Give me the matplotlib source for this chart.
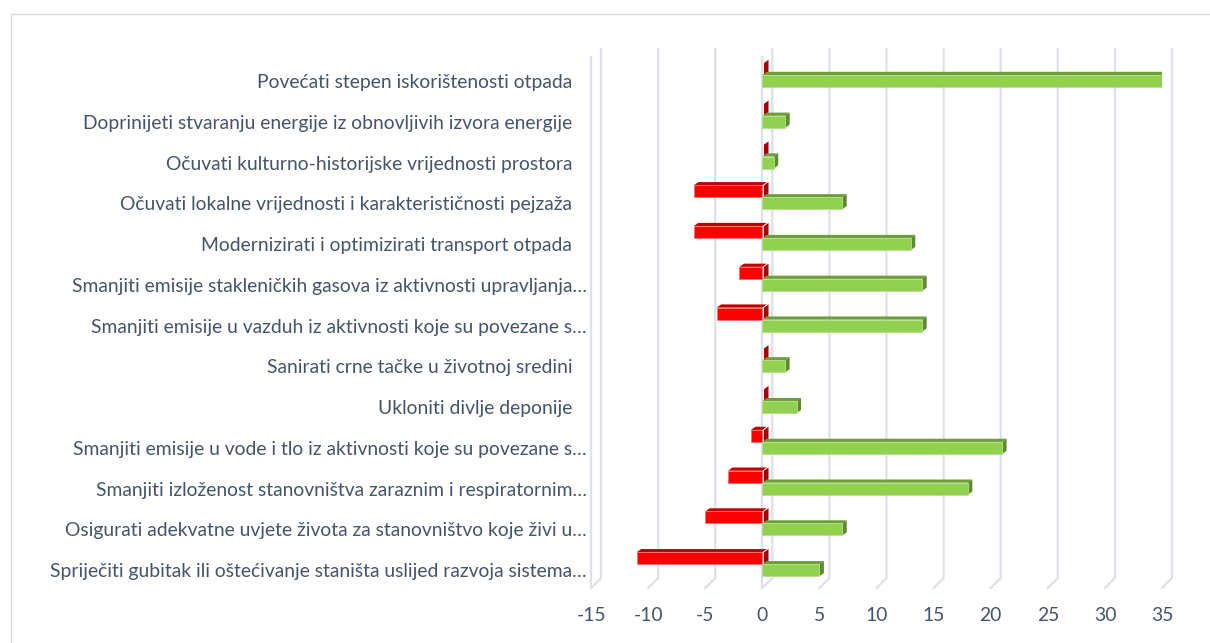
import matplotlib
matplotlib.use("Agg")
import matplotlib.pyplot as plt
from matplotlib.patches import Polygon, Rectangle
import numpy as np

categories = [
    "Povećati stepen iskorištenosti otpada   ",
    "Doprinijeti stvaranju energije iz obnovljivih izvora energije   ",
    "Očuvati kulturno-historijske vrijednosti prostora   ",
    "Očuvati lokalne vrijednosti i karakterističnosti pejzaža   ",
    "Modernizirati i optimizirati transport otpada   ",
    "Smanjiti emisije stakleničkih gasova iz aktivnosti upravljanja…",
    "Smanjiti emisije u vazduh iz aktivnosti koje su povezane s…",
    "Sanirati crne tačke u životnoj sredini   ",
    "Ukloniti divlje deponije   ",
    "Smanjiti emisije u vode i tlo iz aktivnosti koje su povezane s…",
    "Smanjiti izloženost stanovništva zaraznim i respiratornim…",
    "Osigurati adekvatne uvjete života za stanovništvo koje živi u…",
    "Spriječiti gubitak ili oštećivanje staništa uslijed razvoja sistema…",
]
positive = [35, 2, 1, 7, 13, 14, 14, 2, 3, 21, 18, 7, 5]
negative = [0, 0, 0, -6, -6, -2, -4, 0, 0, -1, -3, -5, -11]
xticks = [-15, -10, -5, 0, 5, 10, 15, 20, 25, 30, 35]
xtick_labels = ["-15", "-10", "-5", "0", "5", "10", "15", "20", "25", "30", "35"]

W, H = 1210, 643
fig = plt.figure(figsize=(W / 100, H / 100), dpi=100)
text_color = "#44546A"
font = ["Lato", "DejaVu Sans"]

# layout in pixels
ax_left, ax_right = 591, 1162
ax_top, ax_bottom = 49, 588
ax = fig.add_axes([ax_left / W, 1 - ax_bottom / H, (ax_right - ax_left) / W, (ax_bottom - ax_top) / H])
ax.set_xlim(-15, 35)
px_per_cat = 40.77
first_center = 81.0
ax.set_ylim((ax_bottom - first_center) / px_per_cat, (ax_top - first_center) / px_per_cat)
for s in ax.spines.values():
    s.set_visible(False)
ax.set_facecolor("none")

# fit font size to the reference text width
renderer = fig.canvas.get_renderer()
t = fig.text(0, 0, "Doprinijeti stvaranju energije iz obnovljivih izvora energije", fontsize=10, family=font)
w = t.get_window_extent(renderer).width
t.remove()
fs = 10 * 501 / w * 0.975

ypos = np.arange(len(categories))
ax.set_yticks(ypos)
ax.set_yticklabels(categories, fontsize=fs, color=text_color, family=font)
ax.set_xticks(xticks)
ax.set_xticklabels(xtick_labels, fontsize=fs, color=text_color, family=font)
ax.tick_params(axis="y", length=0, pad=3)
ax.tick_params(axis="x", length=0, pad=14)

ppx = (ax_right - ax_left) / 50.0  # px per unit
dx = 4.5 / ppx
dy = -3.2 / px_per_cat
h = 12.0 / px_per_cat

grid_col = "#DDE1E8"
back_off = 10 / ppx
back_bottom = (578 - first_center) / px_per_cat
front_bottom = (ax_bottom - first_center) / px_per_cat
top_y = (ax_top - first_center) / px_per_cat
front_top = (57 - first_center) / px_per_cat
for v in xticks:
    ax.plot([v + back_off, v + back_off, v], [top_y, back_bottom, front_bottom],
            color=grid_col, lw=1.6, zorder=1, clip_on=False, solid_joinstyle="miter")
for v in [-15, 0]:
    ax.plot([v, v], [front_top, front_bottom], color=grid_col, lw=1.6, zorder=1, clip_on=False)

red_front, red_top, red_side = "#FF0000", "#C00000", "#A80000"
grn_front, grn_top, grn_side = "#92D050", "#6E9E3A", "#5F8A30"

for i in range(len(categories)):
    # red (negative) bar above
    v = negative[i]
    yc = i - h
    yt, yb = yc - h / 2, yc + h / 2
    if v < 0:
        ax.add_patch(Polygon([(v, yt), (0, yt), (0 + dx, yt + dy), (v + dx, yt + dy)],
                             closed=True, fc=red_top, ec="none", zorder=3))
        ax.add_patch(Rectangle((v, yt), -v, h, fc=red_front, ec="#FF7070", lw=0.6, zorder=4))
    ax.add_patch(Polygon([(0 + 0.15, yt), (0 + 0.15, yb), (0.15 + dx, yb + dy), (0.15 + dx, yt + dy)],
                         closed=True, fc=red_side, ec="none", zorder=3))
    # green (positive) bar below
    v = positive[i]
    yt, yb = i - h / 2, i + h / 2
    ax.add_patch(Polygon([(0, yt), (v, yt), (v + dx, yt + dy), (0 + dx, yt + dy)],
                         closed=True, fc=grn_top, ec="none", zorder=5))
    ax.add_patch(Polygon([(v, yt), (v, yb), (v + dx, yb + dy), (v + dx, yt + dy)],
                         closed=True, fc=grn_side, ec="none", zorder=5))
    ax.add_patch(Rectangle((0, yt), v, h, fc=grn_front, ec="#B6DE8E", lw=0.6, zorder=6))

# chart border (top and left visible)
fig.patches.append(Rectangle((10.5 / W, -0.1), 1.2, 1 - 13.5 / H + 0.1, transform=fig.transFigure,
                             fill=False, ec="#D9D9D9", lw=1.0, zorder=0))

fig.savefig("out.png", dpi=100)
